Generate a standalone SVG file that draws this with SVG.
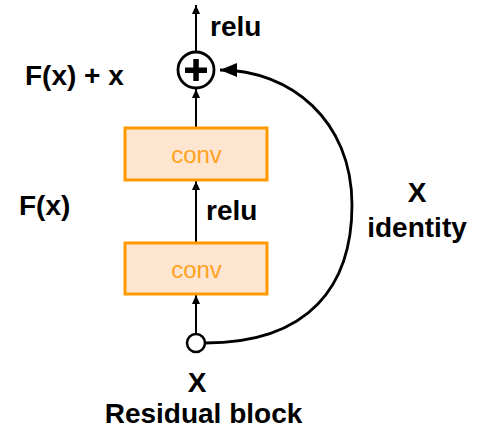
<svg xmlns="http://www.w3.org/2000/svg" width="487" height="448" viewBox="0 0 487 448">
<style>
.lbl{font-family:"Liberation Sans",Arial,sans-serif;font-weight:bold;font-size:28px;fill:#000}
.box{fill:#FDE5D0;stroke:#FF9900;stroke-width:3}
.conv{font-family:"Liberation Sans",Arial,sans-serif;font-size:24px;fill:#FFA21F;text-anchor:middle}
.ln{fill:none;stroke:#000;stroke-width:2}
.cv{fill:none;stroke:#000;stroke-width:2.8}
</style>
<defs>
<marker id="sa" markerUnits="userSpaceOnUse" markerWidth="9" markerHeight="8" refX="9" refY="4" orient="auto"><path d="M0,0 L9,4 L0,8 z" fill="#000"/></marker>
<marker id="ba" markerUnits="userSpaceOnUse" markerWidth="17" markerHeight="14" refX="17" refY="7" orient="auto"><path d="M0,0 L17,7 L0,14 z" fill="#000"/></marker>
</defs>
<g id="connectors">
<line class="ln" x1="196" y1="51" x2="196" y2="5" marker-end="url(#sa)"/>
<line class="ln" x1="196" y1="128" x2="196" y2="89" marker-end="url(#sa)"/>
<line class="ln" x1="196" y1="243" x2="196" y2="181" marker-end="url(#sa)"/>
<line class="ln" x1="196" y1="334" x2="196" y2="295" marker-end="url(#sa)"/>
<path class="cv" d="M205,343 C310,343 352,285 352,205 C352,120 290,70 220,70" marker-end="url(#ba)"/>
</g>
<g id="add">
<circle cx="196" cy="70" r="18" fill="#fff" stroke="#000" stroke-width="2.8"/>
<rect x="185" y="67.5" width="22" height="5.5" fill="#000"/>
<rect x="193.3" y="59" width="5.5" height="22" fill="#000"/>
</g>
<g id="conv1">
<rect class="box" x="125" y="128" width="142" height="52"/>
<text class="conv" x="196.5" y="163">conv</text>
</g>
<g id="conv2">
<rect class="box" x="125" y="243" width="142" height="51"/>
<text class="conv" x="196.5" y="278">conv</text>
</g>
<g id="input">
<circle cx="196" cy="343" r="9" fill="#fff" stroke="#000" stroke-width="2.5"/>
</g>
<g id="labels">
<text class="lbl" x="210" y="36">relu</text>
<text class="lbl" x="206" y="220">relu</text>
<text class="lbl" x="25" y="85">F(x) + x</text>
<text class="lbl" x="19" y="215">F(x)</text>
<text class="lbl" x="417" y="202" text-anchor="middle">X</text>
<text class="lbl" x="417" y="237" text-anchor="middle">identity</text>
<text class="lbl" x="197" y="392" text-anchor="middle">X</text>
<text class="lbl" x="203.5" y="423" text-anchor="middle">Residual block</text>
</g>
</svg>
